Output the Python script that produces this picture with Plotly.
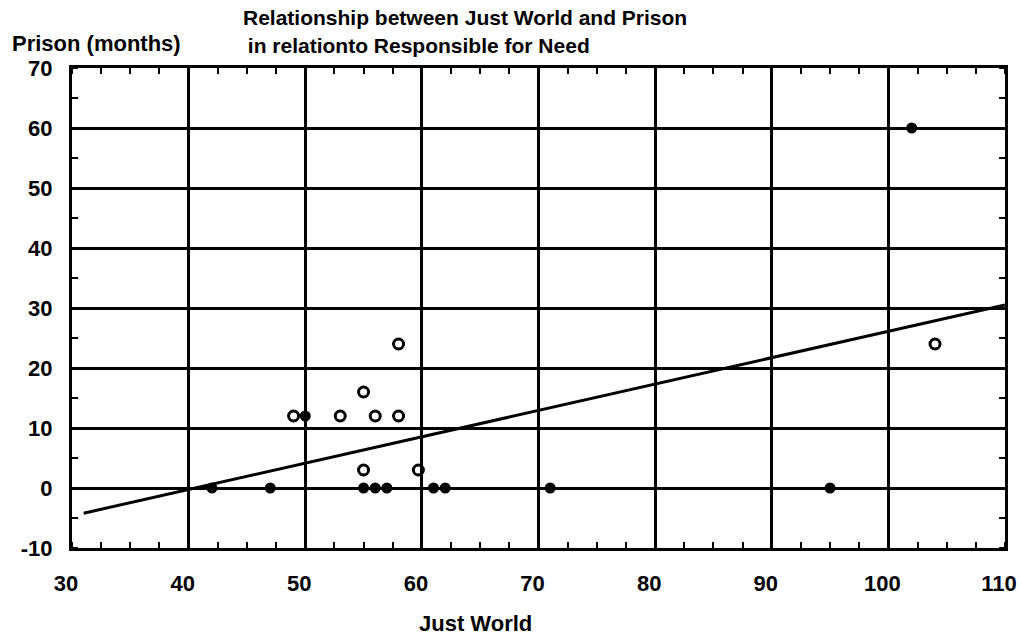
import plotly.graph_objects as go

# Data
filled_x = [42, 47, 50, 55, 56, 57, 61, 62, 71, 95, 102]
filled_y = [0, 0, 12, 0, 0, 0, 0, 0, 0, 0, 60]
open_x = [49, 53, 56, 58, 55, 58, 55, 59.7, 104]
open_y = [12, 12, 12, 12, 16, 24, 3, 3, 24]
fit_x = [31, 110]
fit_y = [-4.2, 30.5]
x_ticks = [30, 40, 50, 60, 70, 80, 90, 100, 110]
y_ticks = [-10, 0, 10, 20, 30, 40, 50, 60, 70]

FONT = "Liberation Sans, Arial, sans-serif"
L, R, T, B = 72, 17, 68, 87
W, H = 1022, 635
PW, PH = W - L - R, H - T - B

def px(x):
    return (x - L) / PW

def py(y):
    return (H - B - y) / PH

fig = go.Figure()
fig.add_trace(go.Scatter(x=fit_x, y=fit_y, mode="lines",
                         line=dict(color="black", width=3), showlegend=False))
fig.add_trace(go.Scatter(x=filled_x, y=filled_y, mode="markers",
                         marker=dict(symbol="circle", size=11, color="black"),
                         showlegend=False))
fig.add_trace(go.Scatter(x=open_x, y=open_y, mode="markers",
                         marker=dict(symbol="circle-open", size=10, color="black",
                                     line=dict(width=3, color="black")),
                         showlegend=False))

axis_common = dict(
    showgrid=True, gridcolor="black", gridwidth=3,
    zeroline=False, showline=True, linecolor="black", linewidth=3,
    mirror="allticks", ticks="", automargin=False,
    tickfont=dict(family=FONT, size=22, color="black", weight="bold"),
)
fig.update_xaxes(range=[30, 110], tickvals=x_ticks, ticktext=[str(v) for v in x_ticks],
                 minor=dict(dtick=2.5, ticks="inside", ticklen=6, tickwidth=2,
                            tickcolor="black", showgrid=False),
                 ticklabelstandoff=14, ticklabelshift=-6, **axis_common)
fig.update_yaxes(range=[-10, 70], tickvals=y_ticks, ticktext=[str(v) for v in y_ticks],
                 minor=dict(dtick=5, ticks="inside", ticklen=6, tickwidth=2,
                            tickcolor="black", showgrid=False),
                 ticklabelstandoff=12, **axis_common)

title_font = dict(family=FONT, size=21, color="black", weight="bold")
label_font = dict(family=FONT, size=22, color="black", weight="bold")
annotations = [
    dict(text="Relationship between Just World and Prison", x=px(241), y=py(18),
         xanchor="left", yanchor="middle", font=title_font),
    dict(text=" in relationto Responsible for Need", x=px(240), y=py(46),
         xanchor="left", yanchor="middle", font=title_font),
    dict(text="Prison (months)", x=px(10), y=py(43),
         xanchor="left", yanchor="middle", font=label_font),
    dict(text="Just World", x=px(475), y=py(623),
         xanchor="center", yanchor="middle", font=label_font),
]
for a in annotations:
    a.update(xref="paper", yref="paper", showarrow=False)

fig.update_layout(
    template="none",
    width=W, height=H,
    margin=dict(l=L, r=R, t=T, b=B, autoexpand=False),
    paper_bgcolor="white", plot_bgcolor="white",
    annotations=annotations,
    showlegend=False,
)
fig.write_html("out.html", config={"displayModeBar": False},
               post_script="document.body.style.margin='0px';document.body.style.overflow='hidden';")
